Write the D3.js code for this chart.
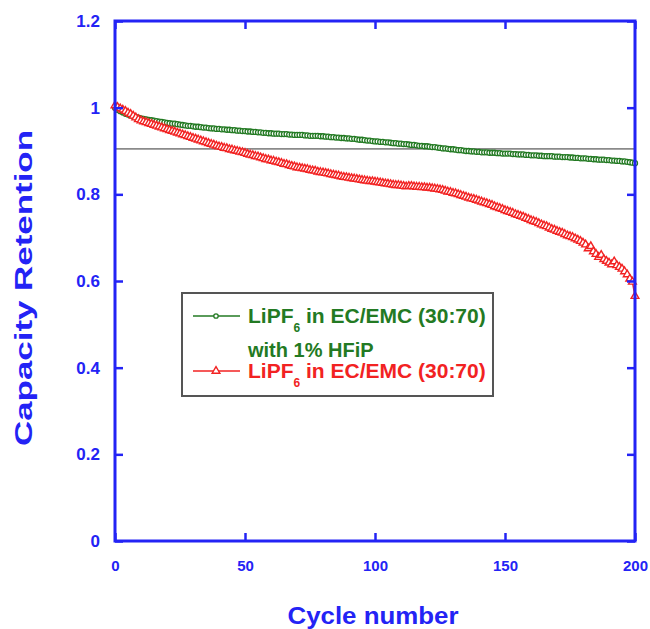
<!DOCTYPE html>
<html>
<head>
<meta charset="utf-8">
<script src="https://cdn.jsdelivr.net/npm/d3@7"></script>
<style>
  html, body { margin: 0; padding: 0; background: #ffffff; }
  svg { display: block; }
  text { font-family: "Liberation Sans", Arial, Helvetica, sans-serif; font-weight: bold; }
</style>
</head>
<body>
<div id="chart"></div>
<script>
// ---------------- data ----------------
const cycles = d3.range(0, 201, 1);   // cycle numbers 0..200

// LiPF6 in EC/EMC (30:70) with 1% HFiP
const seriesHFiP = [
  1.000, 0.995, 0.992, 0.989, 0.986, 0.984, 0.982, 0.980, 0.978, 0.977,
  0.975, 0.974, 0.973, 0.972, 0.971, 0.970, 0.969, 0.968, 0.967, 0.966,
  0.965, 0.964, 0.963, 0.963, 0.962, 0.961, 0.960, 0.959, 0.958, 0.958,
  0.957, 0.956, 0.956, 0.955, 0.954, 0.954, 0.953, 0.952, 0.952, 0.951,
  0.951, 0.950, 0.950, 0.949, 0.949, 0.948, 0.948, 0.947, 0.947, 0.946,
  0.946, 0.945, 0.945, 0.944, 0.944, 0.943, 0.943, 0.942, 0.942, 0.941,
  0.941, 0.940, 0.940, 0.940, 0.939, 0.939, 0.939, 0.938, 0.938, 0.937,
  0.937, 0.937, 0.937, 0.936, 0.936, 0.935, 0.935, 0.935, 0.935, 0.934,
  0.934, 0.933, 0.933, 0.932, 0.932, 0.931, 0.931, 0.930, 0.930, 0.929,
  0.929, 0.928, 0.928, 0.927, 0.926, 0.926, 0.925, 0.924, 0.924, 0.923,
  0.922, 0.922, 0.921, 0.921, 0.920, 0.920, 0.919, 0.918, 0.918, 0.917,
  0.917, 0.916, 0.916, 0.915, 0.914, 0.914, 0.913, 0.912, 0.912, 0.911,
  0.911, 0.910, 0.909, 0.909, 0.908, 0.907, 0.906, 0.906, 0.905, 0.904,
  0.904, 0.903, 0.902, 0.902, 0.901, 0.900, 0.900, 0.899, 0.899, 0.898,
  0.898, 0.897, 0.897, 0.897, 0.896, 0.896, 0.896, 0.895, 0.895, 0.894,
  0.894, 0.894, 0.894, 0.893, 0.893, 0.892, 0.892, 0.892, 0.891, 0.891,
  0.890, 0.890, 0.890, 0.889, 0.889, 0.888, 0.888, 0.888, 0.888, 0.887,
  0.887, 0.887, 0.886, 0.886, 0.886, 0.885, 0.885, 0.884, 0.884, 0.883,
  0.883, 0.883, 0.882, 0.882, 0.881, 0.881, 0.880, 0.880, 0.880, 0.879,
  0.879, 0.878, 0.878, 0.877, 0.877, 0.876, 0.876, 0.875, 0.874, 0.873,
  0.872
];

// LiPF6 in EC/EMC (30:70)
const seriesBase = [
  1.005, 1.001, 0.998, 0.995, 0.992, 0.988, 0.985, 0.981, 0.977, 0.973,
  0.970, 0.968, 0.966, 0.964, 0.962, 0.960, 0.958, 0.956, 0.954, 0.952,
  0.950, 0.948, 0.946, 0.944, 0.942, 0.940, 0.938, 0.936, 0.934, 0.932,
  0.930, 0.928, 0.926, 0.924, 0.922, 0.920, 0.918, 0.916, 0.914, 0.912,
  0.910, 0.909, 0.907, 0.906, 0.904, 0.903, 0.901, 0.900, 0.898, 0.897,
  0.895, 0.893, 0.891, 0.890, 0.888, 0.887, 0.885, 0.883, 0.881, 0.880,
  0.878, 0.877, 0.875, 0.874, 0.872, 0.870, 0.869, 0.867, 0.865, 0.864,
  0.862, 0.861, 0.860, 0.859, 0.858, 0.856, 0.855, 0.854, 0.852, 0.851,
  0.850, 0.849, 0.848, 0.846, 0.845, 0.844, 0.843, 0.841, 0.840, 0.839,
  0.838, 0.837, 0.836, 0.835, 0.834, 0.833, 0.832, 0.831, 0.830, 0.830,
  0.829, 0.828, 0.827, 0.826, 0.825, 0.824, 0.823, 0.822, 0.821, 0.821,
  0.820, 0.819, 0.818, 0.819, 0.819, 0.818, 0.817, 0.817, 0.816, 0.816,
  0.815, 0.815, 0.814, 0.813, 0.812, 0.811, 0.810, 0.808, 0.806, 0.805,
  0.803, 0.802, 0.800, 0.798, 0.796, 0.794, 0.792, 0.790, 0.789, 0.787,
  0.785, 0.783, 0.781, 0.779, 0.777, 0.775, 0.772, 0.770, 0.768, 0.766,
  0.763, 0.761, 0.759, 0.757, 0.754, 0.752, 0.750, 0.748, 0.745, 0.743,
  0.740, 0.738, 0.736, 0.733, 0.730, 0.728, 0.726, 0.723, 0.720, 0.718,
  0.715, 0.713, 0.711, 0.708, 0.705, 0.703, 0.701, 0.698, 0.695, 0.692,
  0.688, 0.684, 0.675, 0.680, 0.668, 0.662, 0.655, 0.660, 0.650, 0.646,
  0.642, 0.638, 0.645, 0.636, 0.632, 0.628, 0.622, 0.615, 0.605, 0.598,
  0.565
];

const referenceLevel = 0.905;

const xTicks = [0, 50, 100, 150, 200];
const xTickLabels = ["0", "50", "100", "150", "200"];
const yTicks = [0, 0.2, 0.4, 0.6, 0.8, 1, 1.2];
const yTickLabels = ["0", "0.2", "0.4", "0.6", "0.8", "1", "1.2"];

const legendHFiP = { main: "LiPF", sub: "6", rest: " in EC/EMC (30:70)", line2: "with 1% HFiP" };
const legendBase = { main: "LiPF", sub: "6", rest: " in EC/EMC (30:70)" };

// ---------------- layout ----------------
const W = 650, H = 629;
const plot = { left: 115, right: 635, top: 21, bottom: 541 };
const BLUE = "#2323f5", GREEN = "#237a23", RED = "#f22222";

const svg = d3.select("#chart").append("svg").attr("width", W).attr("height", H);

const x = d3.scaleLinear().domain([0, 200]).range([plot.left, plot.right]);
const y = d3.scaleLinear().domain([0, 1.2]).range([plot.bottom, plot.top]);

// reference line
svg.append("line")
  .attr("x1", x(0)).attr("x2", x(200))
  .attr("y1", y(referenceLevel)).attr("y2", y(referenceLevel))
  .attr("stroke", "#8a8a8a").attr("stroke-width", 1.6);

const dataHFiP = cycles.map((c, i) => ({ c, v: seriesHFiP[i] }));
const dataBase = cycles.map((c, i) => ({ c, v: seriesBase[i] }));

const line = d3.line().x(d => x(d.c)).y(d => y(d.v));

// green series
svg.append("path").datum(dataHFiP).attr("d", line)
  .attr("fill", "none").attr("stroke", GREEN).attr("stroke-width", 1.5);
svg.append("g").selectAll("circle").data(dataHFiP).join("circle")
  .attr("cx", d => x(d.c)).attr("cy", d => y(d.v)).attr("r", 2.5)
  .attr("fill", "#ffffff").attr("stroke", GREEN).attr("stroke-width", 1.3);

// red series
const tri = d3.symbol().type(d3.symbolTriangle).size(26);
svg.append("path").datum(dataBase).attr("d", line)
  .attr("fill", "none").attr("stroke", RED).attr("stroke-width", 1.5);
svg.append("g").selectAll("path").data(dataBase).join("path")
  .attr("d", tri)
  .attr("transform", d => `translate(${x(d.c)},${y(d.v)})`)
  .attr("fill", "#ffffff").attr("stroke", RED).attr("stroke-width", 1.4);

// ---------------- axes ----------------
const axisStyle = g => {
  g.select(".domain").remove();
  g.selectAll(".tick line").attr("stroke", BLUE).attr("stroke-width", 2.5);
  g.selectAll(".tick text").attr("fill", BLUE).attr("font-weight", "bold")
    .attr("font-family", "Liberation Sans, Arial, sans-serif");
};

// bottom (labels)
svg.append("g").attr("transform", `translate(0,${plot.bottom})`)
  .call(d3.axisBottom(x).tickValues(xTicks).tickSize(-8).tickPadding(19)
        .tickFormat((d, i) => xTickLabels[i]))
  .call(axisStyle)
  .call(g => g.selectAll(".tick text").attr("font-size", 15));
// top (ticks only)
svg.append("g").attr("transform", `translate(0,${plot.top})`)
  .call(d3.axisTop(x).tickValues(xTicks).tickSize(-8).tickFormat(""))
  .call(axisStyle);
// left (labels)
svg.append("g").attr("transform", `translate(${plot.left},0)`)
  .call(d3.axisLeft(y).tickValues(yTicks).tickSize(-8).tickPadding(15)
        .tickFormat((d, i) => yTickLabels[i]))
  .call(axisStyle)
  .call(g => g.selectAll(".tick text").attr("font-size", 17));
// right (ticks only)
svg.append("g").attr("transform", `translate(${plot.right},0)`)
  .call(d3.axisRight(y).tickValues(yTicks).tickSize(-8).tickFormat(""))
  .call(axisStyle);

// frame
svg.append("rect")
  .attr("x", plot.left).attr("y", plot.top)
  .attr("width", plot.right - plot.left).attr("height", plot.bottom - plot.top)
  .attr("fill", "none").attr("stroke", BLUE).attr("stroke-width", 3);

// axis titles
svg.append("text")
  .attr("x", 373).attr("y", 624)
  .attr("text-anchor", "middle").attr("fill", BLUE).attr("font-size", 24)
  .attr("textLength", 171).attr("lengthAdjust", "spacingAndGlyphs")
  .text("Cycle number");
svg.append("text")
  .attr("transform", `translate(32,288) rotate(-90)`)
  .attr("text-anchor", "middle").attr("fill", BLUE).attr("font-size", 23)
  .attr("textLength", 316).attr("lengthAdjust", "spacingAndGlyphs")
  .text("Capacity Retention");

// ---------------- legend ----------------
const lg = svg.append("g");
lg.append("rect").attr("x", 182).attr("y", 293).attr("width", 311).attr("height", 103)
  .attr("fill", "#ffffff").attr("stroke", "#555555").attr("stroke-width", 2);

function legendEntry(yy, color, marker, spec) {
  lg.append("line").attr("x1", 193).attr("x2", 240).attr("y1", yy).attr("y2", yy)
    .attr("stroke", color).attr("stroke-width", 1.5);
  if (marker === "circle") {
    lg.append("circle").attr("cx", 216).attr("cy", yy).attr("r", 2.2)
      .attr("fill", "#fff").attr("stroke", color).attr("stroke-width", 1.3);
  } else {
    lg.append("path").attr("d", tri).attr("transform", `translate(216,${yy})`)
      .attr("fill", "#fff").attr("stroke", color).attr("stroke-width", 1.4);
  }
  const t = lg.append("text").attr("x", 248).attr("y", yy + 7)
    .attr("fill", color).attr("font-size", 21);
  t.append("tspan").text(spec.main);
  t.append("tspan").attr("dy", 9).attr("font-size", 12).text(spec.sub);
  t.append("tspan").attr("dy", -9).text(spec.rest);
  if (spec.line2) {
    lg.append("text").attr("x", 248).attr("y", yy + 41)
      .attr("fill", color).attr("font-size", 20).text(spec.line2);
  }
}
legendEntry(316, GREEN, "circle", legendHFiP);
legendEntry(371, RED, "triangle", legendBase);
</script>
</body>
</html>
